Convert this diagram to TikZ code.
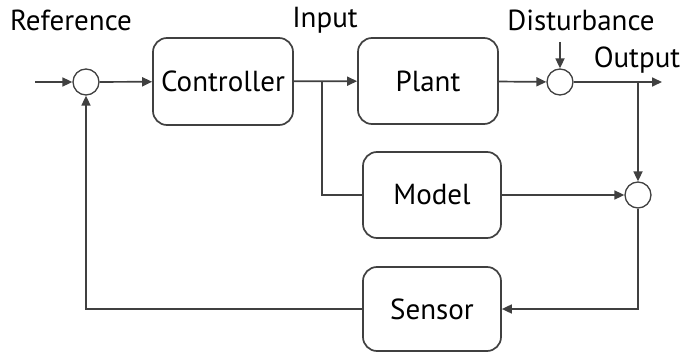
\documentclass[tikz,border=0pt]{standalone}
\usepackage{fontspec}
\setmainfont{PT Sans}
\usetikzlibrary{arrows.meta}
\begin{document}
\begin{tikzpicture}[x=1pt,y=-1pt,
  line/.style={draw=black!75,line width=1.7pt},
  arr/.style={line,-{Triangle[length=10pt,width=9pt]}},
  blk/.style={draw=black!75,line width=1.7pt,rounded corners=14pt,inner sep=0pt,font=\fontsize{29}{29}\selectfont},
  sumc/.style={draw=black!75,line width=1.3pt,circle,minimum size=26pt,inner sep=0pt},
  lbl/.style={font=\fontsize{29}{29}\selectfont,inner sep=0pt}]
\useasboundingbox (0,0) rectangle (686,353);
\node[blk,minimum width=140pt,minimum height=87pt] (ctrl) at (223,81.5) {Controller};
\node[blk,minimum width=140pt,minimum height=86pt] (plant) at (428,81) {Plant};
\node[blk,minimum width=138pt,minimum height=86pt] (model) at (432,195) {Model};
\node[blk,minimum width=138pt,minimum height=84pt] (sensor) at (432,309) {Sensor};
\node[sumc] (s1) at (86,82) {};
\node[sumc] (s2) at (560,82) {};
\node[sumc] (s3) at (638,195) {};
\coordinate (in) at (35,82);
\coordinate (dist) at (560,42);
\coordinate (out) at (662,82);
\coordinate (br) at (322,82);
\coordinate (tap) at (638,82);
\node[lbl] (tref) at (71,20) {Reference};
\node[lbl] (tin) at (325,20) {Input};
\node[lbl] (tdis) at (581,20) {Disturbance};
\node[lbl] (tout) at (637,60) {Output};
\draw[arr] (in) -- (s1);
\draw[arr] (s1) -- (ctrl);
\draw[arr] (ctrl) -- (plant);
\draw[line] (br) |- (model);
\draw[arr] (plant) -- (s2);
\draw[arr] (dist) -- (s2);
\draw[arr] (s2) -- (out);
\draw[arr] (tap) -- (s3);
\draw[arr] (model) -- (s3);
\draw[arr] (s3) |- (sensor);
\draw[arr] (sensor) -| (s1);
\end{tikzpicture}
\end{document}
